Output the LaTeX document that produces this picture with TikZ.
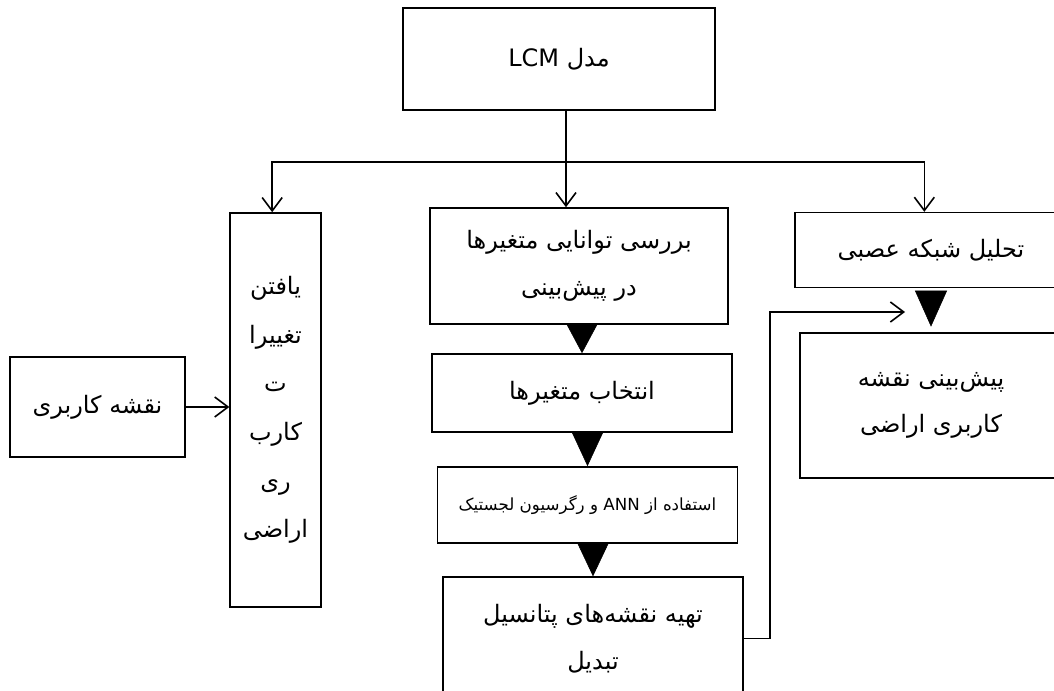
\documentclass[tikz,border=0pt]{standalone}
\usepackage{fontspec}
\newfontfamily\arabicfont[Script=Arabic]{DejaVu Sans}
\TeXXeTstate=1
\usetikzlibrary{arrows.meta}

\newcommand{\fa}[1]{\beginR #1\endR}
\tikzset{tri/.style={-{Triangle[width=24pt,length=#1]}},
  tri/.default=22.5pt}

\begin{document}
\begin{tikzpicture}[x=0.75pt,y=-0.75pt,
  font=\arabicfont\fontsize{18}{35}\selectfont,
  box/.style={draw,line width=1.2pt,align=center,inner sep=2pt},
  open/.style={line width=1.2pt,-{Straight Barb[length=10pt,width=15pt]}},
  every node/.style={align=center}]

\useasboundingbox (0,0) rectangle (1054,691);
\clip (0,0) rectangle (1054,691);

%draw boxes
    \node[box,minimum width=234pt,minimum height=76.5pt] (lcm) at (559,59) {\fa{مدل \beginL LCM\endL}};
    \node[box,minimum width=131pt,minimum height=75pt] (map) at (97.5,407) {\fa{نقشه کاربری}};
    \node[box,minimum width=68pt,minimum height=295.5pt,font=\arabicfont\fontsize{18}{36.5}\selectfont] (tall) at (275.5,410)
      {\fa{یافتن}\\\fa{تغییرا}\\\fa{ت}\\\fa{کارب}\\\fa{ری}\\\fa{اراضی}};
    \node[box,minimum width=223.5pt,minimum height=87pt] (m1) at (579,266)
      {\fa{بررسی توانایی متغیرها}\\\fa{در پیش‌بینی}};
    \node[box,minimum width=225pt,minimum height=58.5pt] (m2) at (582,393) {\fa{انتخاب متغیرها}};
    \node[box,minimum width=225pt,minimum height=57pt,font=\arabicfont\fontsize{12.5}{20}\selectfont] (m3) at (587.5,505)
      {\fa{استفاده از \beginL ANN\endL{} و رگرسیون لجستیک}};
    \node[box,minimum width=225pt,minimum height=92pt] (m4) at (593,638.5)
      {\fa{تهیه نقشه‌های پتانسیل}\\\fa{تبدیل}};
    \node[box,minimum width=204pt,minimum height=56pt] (r1) at (931,250) {\fa{تحلیل شبکه عصبی}};
    \node[box,minimum width=196.5pt,minimum height=109pt] (r2) at (931,405.5)
      {\fa{پیش‌بینی نقشه}\\\fa{کاربری اراضی}};

%split from the top box
    \coordinate (split) at (566,162);
    \draw[line width=1.2pt] (lcm.south -| split) -- (split);
    \draw[open] (split) -- (split |- m1.north);
    \draw[open] (split) -| ([xshift=-2.5pt]tall.north);
    \draw[open] (split) -| ([xshift=-5pt]r1.north);
    \draw[open] (map.east) -- (map.east -| tall.west);

%black steps
  \foreach \a/\b/\len in {m1/m2/22.5pt,m2/m3/26pt,m3/m4/25.5pt}
    \draw[tri=\len] (\b.north |- \a.south) -- (\b.north);
    \draw[tri=27pt] ([yshift=-3pt]r1.south) -- ([yshift=4pt]r2.north);

%feed back
    \coordinate (fb) at (905,312);
    \draw[open] (m4.east) -- ++(26,0) |- (fb);

\end{tikzpicture}
\end{document}
